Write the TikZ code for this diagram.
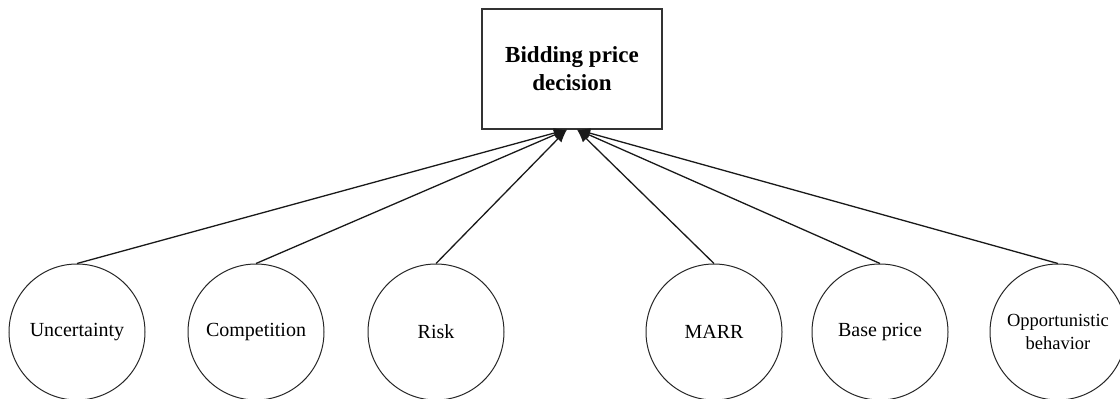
\documentclass[tikz,border=0pt]{standalone}
\usepackage{fontspec}
\setmainfont{Liberation Serif}
\usetikzlibrary{arrows.meta,positioning}
\tikzset{
  goal/.style={draw=black!80, line width=1.1pt, minimum width=180pt, minimum height=120pt, align=center, inner sep=0pt, font=\fontsize{23}{28}\selectfont\bfseries},
  factor/.style={draw=black!85, line width=1pt, circle, minimum size=136pt, inner sep=0pt, align=center, font=\fontsize{20}{23}\selectfont},
  link/.style={-{Latex[length=13pt,width=10pt]}, line width=1.3pt, draw=black!90}
}

\begin{document}
\begin{tikzpicture}[x=1pt, y=-1pt]
  \useasboundingbox (0,0) rectangle (1120,399);
  \node[goal] (price) at (572,69) {Bidding price\\decision};

  \node[factor] (unc) at (77,332) {Uncertainty};
  \node[factor] (comp) at (256,332) {Competition};
  \node[factor] (risk) at (436,332) {Risk};
  \node[factor] (marr) at (714,332) {MARR};
  \node[factor] (base) at (880,332) {Base price};
  \node[factor, font=\fontsize{18.5}{23}\selectfont] (opp) at (1058,332) {Opportunistic\\behavior};

  \coordinate (inL) at ([xshift=-5pt]price.south);
  \coordinate (inR) at ([xshift=5pt]price.south);

  \draw[link] (unc.north) -- (inL);
  \draw[link] (comp.north) -- (inL);
  \draw[link] (risk.north) -- (inL);
  \draw[link] (marr.north) -- (inR);
  \draw[link] (base.north) -- (inR);
  \draw[link] (opp.north) -- (inR);
\end{tikzpicture}
\end{document}
